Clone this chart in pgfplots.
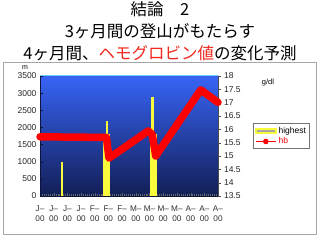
\documentclass[border=0pt]{standalone}
\usepackage{pgfplots}
\pgfplotsset{compat=1.18}
\usepackage{fontspec}
\setmainfont{Liberation Sans}
\newfontfamily\jp{Noto Sans CJK JP}
\definecolor{topblue}{RGB}{55,100,245}
\definecolor{botblue}{RGB}{18,30,85}
\definecolor{baryel}{RGB}{250,250,60}
\definecolor{titred}{RGB}{240,40,30}
\begin{document}
\begin{tikzpicture}[x=1pt,y=1pt]
\useasboundingbox (0,0) rectangle (320,240);
\fill[white] (0,0) rectangle (320,240);
\draw[gray!70, line width=0.9pt] (3,6) rectangle (316,178);
\node[font=\jp\fontsize{16.5}{18}\selectfont] at (160,231) {結論\quad 2};
\node[font=\jp\fontsize{16.5}{18}\selectfont] at (160,209) {3ヶ月間の登山がもたらす};
\node[font=\jp\fontsize{16.5}{18}\selectfont] at (160,187) {4ヶ月間、\textcolor{titred}{ヘモグロビン値}の変化予測};
\node[font=\fontsize{7}{8}\selectfont] at (25,172) {m};
\node[font=\fontsize{7.5}{8}\selectfont] at (268,157) {g/dl};
\begin{axis}[
  at={(40pt,44pt)}, anchor=south west, scale only axis,
  width=178pt, height=120pt,
  xmin=0, xmax=13, ymin=0, ymax=3500,
  axis y line*=left, axis x line*=bottom,
  axis line style={draw=botblue!70!black},
  axis background/.style={shade, top color=topblue, bottom color=botblue},
  xtick={0,...,13},
  xticklabels={J–\\00,J–\\00,J–\\00,J–\\00,F–\\00,F–\\00,F–\\00,M–\\00,M–\\00,M–\\00,M–\\00,A–\\00,A–\\00,A–\\00},
  xticklabel style={align=center, font=\fontsize{8.2}{10.5}\selectfont, text=black!80, yshift=-6pt},
  minor x tick num=6,
  tick align=inside,
  major tick length=2.5pt, minor tick length=2pt,
  x tick style={draw=black!60},
  ytick distance=500,
  y tick style={draw=botblue!60!black},
  yticklabel style={font=\fontsize{8.5}{10}\selectfont, text=black!85},
  /pgf/number format/assume math mode=true,
  /pgf/number format/1000 sep={},
  scaled y ticks=false,
  clip=false,
]
\addplot[ybar, bar width=2.2pt, bar shift=0pt, fill=baryel, draw=none] coordinates {(1.63,1000)};
\addplot[ybar, bar width=6.7pt, bar shift=0pt, fill=baryel, draw=none] coordinates {(4.87,1800)};
\addplot[ybar, bar width=2.4pt, bar shift=0pt, fill=baryel, draw=none] coordinates {(4.91,2200)};
\addplot[ybar, bar width=7pt, bar shift=0pt, fill=baryel, draw=none] coordinates {(8.30,1800)};
\addplot[ybar, bar width=2.8pt, bar shift=0pt, fill=baryel, draw=none] coordinates {(8.21,2900)};
\draw[cyan!60, line width=1pt] (rel axis cs:0,1) -- (rel axis cs:1,1);
\end{axis}
\begin{axis}[
  at={(40pt,44pt)}, anchor=south west, scale only axis,
  width=178pt, height=120pt,
  xmin=0, xmax=13, ymin=13.5, ymax=18,
  axis y line*=right, axis x line=none,
  axis line style={draw=black!70},
  ytick distance=0.5,
  tick align=outside, major tick length=2.5pt,
  y tick style={draw=black!70},
  yticklabel style={font=\fontsize{8.5}{10}\selectfont, text=black!85},
  /pgf/number format/assume math mode=true,
  clip=false,
  legend style={at={(1.197,0.608)}, anchor=north west, draw=black!55, line width=0.9pt,
    font=\fontsize{8.5}{9.5}\selectfont, inner sep=1.5pt, row sep=-1pt,
    legend cell align=left},
  legend image code/.code={},
]
\addlegendimage{legend image code/.code={\draw[fill=gray!70, draw=baryel, line width=1.5pt] (0pt,-2pt) rectangle (20pt,2pt);}}
\addlegendentry{highest}
\addlegendimage{legend image code/.code={\draw[red, line width=1.6pt] (0pt,0pt) -- (20pt,0pt); \fill[red] (10pt,0pt) circle (2.3pt);}}
\addlegendentry{\textcolor{red}{hb}}
\addplot[red, line width=7.5pt, line join=round, line cap=round, forget plot] coordinates {
(0,15.72) (2,15.71) (4,15.70) (4.85,15.70) (5.04,14.92) (7.91,15.94) (8.2,15.8) (8.45,15.0) (11.74,17.48) (13.0,17.01)};
\end{axis}
\end{tikzpicture}
\end{document}
